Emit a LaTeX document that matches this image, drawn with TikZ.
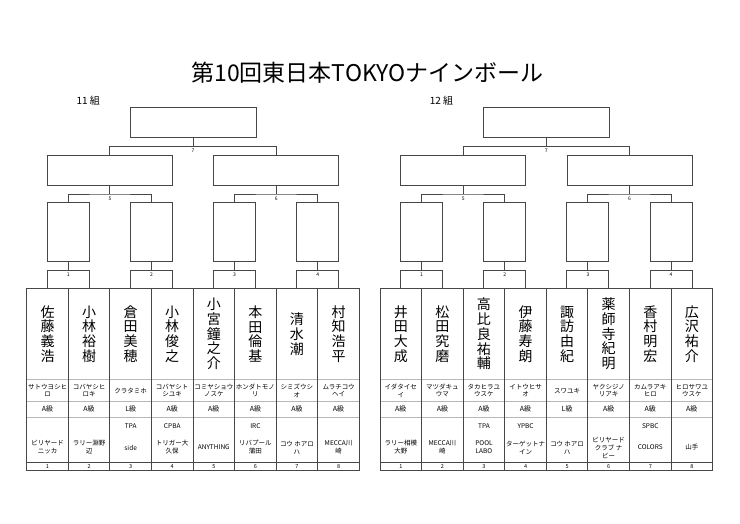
\documentclass[tikz,border=0pt]{standalone}
\usepackage{fontspec}
\setmainfont{Noto Sans CJK JP}
\usetikzlibrary{positioning}
\definecolor{frame}{gray}{0.28}
\definecolor{rule}{gray}{0.72}
\tikzset{
  rbox/.style={draw=frame, line width=0.9pt, fill=white, inner sep=0pt},
  rfin/.style={rbox, minimum width=126pt, minimum height=30pt},
  rtwo/.style={rbox, minimum width=125pt, minimum height=30pt},
  rone/.style={rbox, minimum width=42pt, minimum height=59.2pt},
  numbox/.style={rbox, minimum width=42pt, minimum height=18.1pt},
  link/.style={draw=frame, line width=0.9pt},
  tag/.style={inner sep=0.5pt, font=\fontsize{5}{5}\selectfont},
  gridline/.style={draw=frame, line width=0.9pt},
  rowline/.style={draw=rule, line width=0.6pt},
  pname/.style={align=center, inner sep=0pt, font=\fontsize{14}{14.7}\selectfont},
  pkana/.style={align=center, inner sep=0pt, font=\fontsize{6.5}{7.5}\selectfont},
  pclass/.style={inner sep=0pt, font=\fontsize{7}{8}\selectfont},
  pteam/.style={align=center, inner sep=0pt, font=\fontsize{6.5}{8}\selectfont},
  pnum/.style={inner sep=0pt, font=\fontsize{5.5}{6}\selectfont}
}
% one group: bracket boxes, connectors and the empty player grid
\newcommand{\bracket}[2]{%
  \node[anchor=west, font=\fontsize{10}{10}\selectfont] (#1-grp) at (73,101) {#2};
  \node[rfin] (#1-fin) at (193,122.5) {};
  \node[rtwo] (#1-sf1) at (109.9,170.5) {};
  \node[rtwo] (#1-sf2) at (276.2,170.5) {};
  \node[rone] (#1-q1) at (68.3,231.9) {};
  \node[rone] (#1-q2) at (151.4,231.9) {};
  \node[rone] (#1-q3) at (234.6,231.9) {};
  \node[rone] (#1-q4) at (317.8,231.9) {};
  \node[numbox] (#1-n1) at (68.3,279.25) {};
  \node[numbox] (#1-n2) at (151.4,279.25) {};
  \node[numbox] (#1-n3) at (234.6,279.25) {};
  \node[numbox] (#1-n4) at (317.8,279.25) {};
  \coordinate (#1-j7) at (193,146.5);
  \coordinate (#1-j5) at (109.9,194);
  \coordinate (#1-j6) at (276.2,194);
  \draw[link] (#1-sf1.north) |- (#1-j7) -| (#1-sf2.north);
  \draw[link] (#1-j7) -- (#1-fin.south);
  \draw[link] (#1-q1.north) |- (#1-j5) -| (#1-q2.north);
  \draw[link] (#1-j5) -- (#1-sf1.south);
  \draw[link] (#1-q3.north) |- (#1-j6) -| (#1-q4.north);
  \draw[link] (#1-j6) -- (#1-sf2.south);
  \draw[link] (#1-n1) -- (#1-q1);
  \draw[link] (#1-n2) -- (#1-q2);
  \draw[link] (#1-n3) -- (#1-q3);
  \draw[link] (#1-n4) -- (#1-q4);
  \node[tag] (#1-l7) at (193,151) {7};
  \node[tag] (#1-l5) at (109.9,198.5) {5};
  \node[tag] (#1-l6) at (276.2,198.5) {6};
  \node[tag] (#1-l1) at (68.3,275) {1};
  \node[tag] (#1-l2) at (151.4,275) {2};
  \node[tag] (#1-l3) at (234.6,275) {3};
  \node[tag] (#1-l4) at (317.8,275) {4};
  % player grid
  \draw[rowline] (26.7,379.5) -- (359.3,379.5);
  \draw[rowline] (26.7,401.7) -- (359.3,401.7);
  \draw[rowline] (26.7,417) -- (359.3,417);
  \foreach \k in {1,...,7}
    \draw[gridline] ({26.7+41.58*\k},288.3) -- ++(0,182.2);
  \draw[gridline] (26.7,462) -- (359.3,462);
  \draw[gridline] (26.7,288.3) rectangle (359.3,470.5);
  \foreach \k in {1,...,8}
    \node[pnum] (#1-no\k) at ({47.5+41.58*(\k-1)},466.3) {\k};
}
% one player column: prefix, slot, name, kana, class, club, team
\newcommand{\player}[7]{%
  \node[pname] (#1-p#2) at ({47.5+41.58*(#2-1)},334) {#3};
  \node[pkana] (#1-k#2) at ({47.5+41.58*(#2-1)},390.6) {#4};
  \node[pclass] (#1-c#2) at ({47.5+41.58*(#2-1)},409.3) {#5};
  \node[pteam] (#1-a#2) at ({47.5+41.58*(#2-1)},425.7) {#6};
  \node[pteam] (#1-t#2) at ({47.5+41.58*(#2-1)},447.5) {#7};
}

\begin{document}
\begin{tikzpicture}[x=1pt, y=-1pt]
  \useasboundingbox (0,0) rectangle (740,523);
  \node[font=\fontsize{23}{23}\selectfont] (title) at (367.5,73) {第10回東日本TOKYOナインボール};

  \begin{scope}
    \bracket{a}{11 組}
    \player{a}{1}{佐\\藤\\義\\浩}{サトウヨシヒ\\ロ}{A級}{}{ビリヤード\\ニッカ}
    \player{a}{2}{小\\林\\裕\\樹}{コバヤシヒ\\ロキ}{A級}{}{ラリー淵野\\辺}
    \player{a}{3}{倉\\田\\美\\穂}{クラタミホ}{L級}{TPA}{side}
    \player{a}{4}{小\\林\\俊\\之}{コバヤシト\\シユキ}{A級}{CPBA}{トリガー大\\久保}
    \player{a}{5}{小\\宮\\鐘\\之\\介}{コミヤショウ\\ノスケ}{A級}{}{ANYTHING}
    \player{a}{6}{本\\田\\倫\\基}{ホンダトモノ\\リ}{A級}{IRC}{リバプール\\蒲田}
    \player{a}{7}{清\\水\\潮}{シミズウシ\\オ}{A級}{}{コウ ホアロ\\ハ}
    \player{a}{8}{村\\知\\浩\\平}{ムラチコウ\\ヘイ}{A級}{}{MECCA川\\崎}
  \end{scope}

  \begin{scope}[xshift=353.3pt]
    \bracket{b}{12 組}
    \player{b}{1}{井\\田\\大\\成}{イダタイセ\\イ}{A級}{}{ラリー相模\\大野}
    \player{b}{2}{松\\田\\究\\磨}{マツダキュ\\ウマ}{A級}{}{MECCA川\\崎}
    \player{b}{3}{高\\比\\良\\祐\\輔}{タカヒラユ\\ウスケ}{A級}{TPA}{POOL\\LABO}
    \player{b}{4}{伊\\藤\\寿\\朗}{イトウヒサ\\オ}{A級}{YPBC}{ターゲットナ\\イン}
    \player{b}{5}{諏\\訪\\由\\紀}{スワユキ}{L級}{}{コウ ホアロ\\ハ}
    \player{b}{6}{薬\\師\\寺\\紀\\明}{ヤクシジノ\\リアキ}{A級}{}{ビリヤード\\クラブ ナ\\ビー}
    \player{b}{7}{香\\村\\明\\宏}{カムラアキ\\ヒロ}{A級}{SPBC}{COLORS}
    \player{b}{8}{広\\沢\\祐\\介}{ヒロサワユ\\ウスケ}{A級}{}{山手}
  \end{scope}
\end{tikzpicture}
\end{document}
